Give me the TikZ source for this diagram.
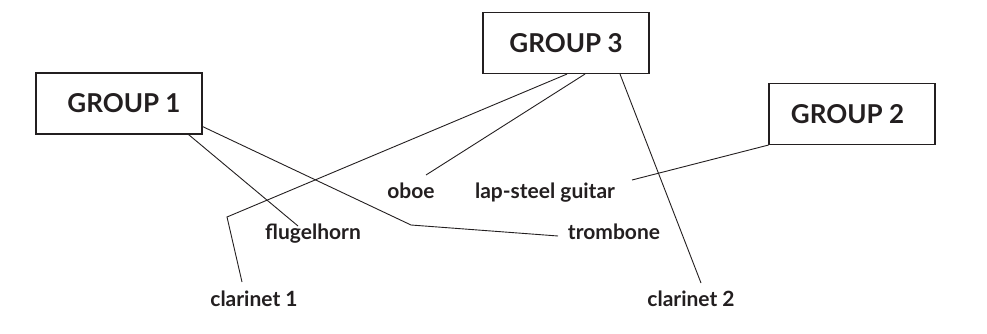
\documentclass[tikz,border=0pt]{standalone}
\usepackage{fontspec}
\setmainfont{Lato}
\definecolor{ink}{HTML}{231F20}
\begin{document}
\begin{tikzpicture}[x=1pt,y=-1pt,
  groupbox/.style={draw=ink,line width=1.1pt,minimum width=166pt,minimum height=61pt,inner sep=0pt,
    font=\fontsize{26}{30}\selectfont\bfseries,text=ink},
  item/.style={font=\fontsize{21}{24}\selectfont\bfseries,text=ink,inner sep=0pt,anchor=base},
  link/.style={draw=ink,line width=0.9pt}]
\useasboundingbox (0,0) rectangle (987,334);
\node[groupbox] (g1) at (119,103.5) {\hspace*{10pt}GROUP 1};
\node[groupbox] (g3) at (566,43) {GROUP 3};
\node[groupbox] (g2) at (852,114) {GROUP 2\hspace*{9pt}};
\node[item] (oboe) at (411,198) {oboe};
\node[item] (lap) at (545,198) {lap-steel guitar};
\node[item] (flug) at (313,239) {flugelhorn};
\node[item] (trom) at (614,239) {trombone};
\node[item] (cl1) at (254,306) {clarinet 1};
\node[item] (cl2) at (691,306) {clarinet 2};
\coordinate (eflug) at (298,226);
\coordinate (btrom) at (411,225);
\coordinate (etrom) at (558,236);
\coordinate (bcl1) at (227,217);
\coordinate (ecl1) at (242,282);
\coordinate (eoboe) at (426,175);
\coordinate (ecl2) at (701,283);
\coordinate (elap) at (632,180);
\draw[link] ([xshift=-14pt]g1.south east) -- (eflug);
\draw[link] ([yshift=8pt]g1.south east) -- (btrom) -- (etrom);
\draw[link] ([xshift=1pt]g3.south) -- (bcl1) -- (ecl1);
\draw[link] ([xshift=19pt]g3.south) -- (eoboe);
\draw[link] ([xshift=54pt]g3.south) -- (ecl2);
\draw[link] (g2.south west) -- (elap);
\end{tikzpicture}
\end{document}
